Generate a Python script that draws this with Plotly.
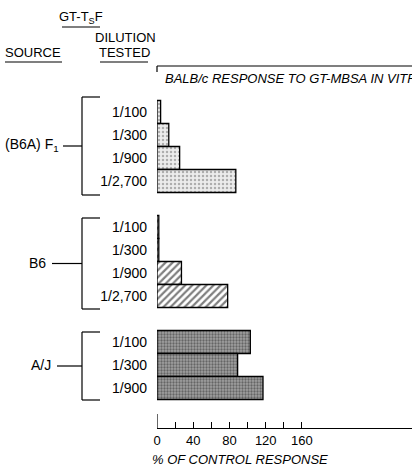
import plotly.graph_objects as go

# ---------------- data ----------------
sources = ["(B6A) F<sub>1</sub>", "B6", "A/J"]
dil_f1 = ["1/100", "1/300", "1/900", "1/2,700"]
val_f1 = [4, 13, 25, 87]
dil_b6 = ["1/100", "1/300", "1/900", "1/2,700"]
val_b6 = [2, 2, 27, 78]
dil_aj = ["1/100", "1/300", "1/900"]
val_aj = [103, 89, 117]
x_tickvals = [0, 40, 80, 120, 160]
x_ticktext = ["0", "40", "80", "120", "160"]
x_minorvals = [20, 60, 100, 140]

# ---------------- layout geometry ----------------
W, H = 412, 472
L, R, T, B = 157, 412, 66, 428            # plot area in pixels
ROW0, ROWH = 112, 23                      # first row centre & row height (px)
FONT = "Liberation Sans"

def px(x):
    return (x - L) / (R - L)

def py(y):
    return (B - y) / (B - T)

def yv(ypix):
    return (ypix - ROW0) / ROWH

# row positions: one empty row between groups
groups = [dil_f1, dil_b6, dil_aj]
rows = []
start = 0
for g in groups:
    rows.append([start + i for i in range(len(g))])
    start += len(g) + 1

fig = go.Figure()
styles = [
    dict(shape=".", fgcolor="#707070", bgcolor="#ececec", size=4, solidity=0.3),
    dict(shape="/", fgcolor="#000000", bgcolor="#ffffff", size=5, solidity=0.45),
    dict(shape=".", fgcolor="#2a2a2a", bgcolor="#a0a0a0", size=3, solidity=0.45),
]
vals = [val_f1, val_b6, val_aj]
for r, v, st in zip(rows, vals, styles):
    fig.add_trace(go.Bar(
        x=v, y=r, orientation="h", width=1,
        marker=dict(color=st["bgcolor"], pattern=st,
                    line=dict(color="black", width=1.3)),
        showlegend=False, hoverinfo="skip"))

all_rows = [y for r in rows for y in r]
all_labels = [d for g in groups for d in g]

fig.update_layout(
    width=W, height=H,
    margin=dict(l=L, r=W - R, t=T, b=H - B, autoexpand=False),
    paper_bgcolor="white", plot_bgcolor="white",
    font=dict(family=FONT, color="black", size=14),
    bargap=0,
    xaxis=dict(range=[0, (R - L) / 0.906], showgrid=False, zeroline=False,
               showline=True, linecolor="black", linewidth=1,
               tickvals=x_tickvals, ticktext=x_ticktext,
               ticks="inside", ticklen=6, tickcolor="black", tickwidth=1,
               minor=dict(tickvals=x_minorvals, ticks="inside", ticklen=6,
                          tickcolor="black", tickwidth=1, showgrid=False),
               tickfont=dict(size=13, family=FONT)),
    yaxis=dict(range=[yv(B), yv(T)], showgrid=False, zeroline=False,
               showline=False, tickvals=all_rows, ticktext=all_labels,
               ticks="", ticklabelstandoff=9,
               tickfont=dict(size=14, family=FONT)),
)

shapes = []
def line(x0, y0, x1, y1, xref="paper", yref="paper", w=1.2):
    shapes.append(dict(type="line", x0=x0, y0=y0, x1=x1, y1=y1,
                       xref=xref, yref=yref, line=dict(color="black", width=w)))

# top header line with small tick
line(px(L), py(T), px(R), py(T))
line(px(L), py(T), px(L), py(T + 6))
# long stub at x=0 on the bottom axis
line(0, yv(B), 0, yv(B - 14), xref="x", yref="y")

# header underlines
line(px(62), py(27), px(100), py(27))
line(px(5), py(62), px(62), py(62))
line(px(100), py(62), px(148), py(62))

# brackets for each source
bracket_px = [(97, 195), (218, 309), (332, 400)]
dash_x0 = [63, 52, 57]
for (top, bot), dx0 in zip(bracket_px, dash_x0):
    line(px(82), py(top), px(82), py(bot))
    line(px(82), py(top), px(100), py(top))
    line(px(82), py(bot), px(100), py(bot))
    mid = (top + bot) / 2
    line(px(dx0), py(mid), px(82), py(mid))
fig.update_layout(shapes=shapes)

ann = []
def text(s, x, y, anchor="center", size=14, italic=False):
    ann.append(dict(text=s, x=px(x), y=py(y), xref="paper", yref="paper",
                    xanchor=anchor, yanchor="middle", showarrow=False,
                    font=dict(size=size, family=FONT,
                              style="italic" if italic else "normal")))

text("GT-T<sub>S</sub>F", 81, 18, size=13)
text("DILUTION", 125, 38, size=13)
text("TESTED", 124, 53, size=13)
text("SOURCE", 33, 53, size=13)
text("BALB/c RESPONSE TO GT-MBSA IN VITRO", 163, 78, anchor="left",
     size=13, italic=True)
text("% OF CONTROL RESPONSE", 240, 459, size=13, italic=True)

src_right = [61, 48, 53]
for s, (top, bot), xr in zip(sources, bracket_px, src_right):
    text(s, xr, (top + bot) / 2 - 1, anchor="right", size=14)
fig.update_layout(annotations=ann)

fig.write_html("out.html",
               config={"displayModeBar": False, "staticPlot": True},
               post_script="document.body.style.margin='0';"
                           "document.body.style.overflow='hidden';")
